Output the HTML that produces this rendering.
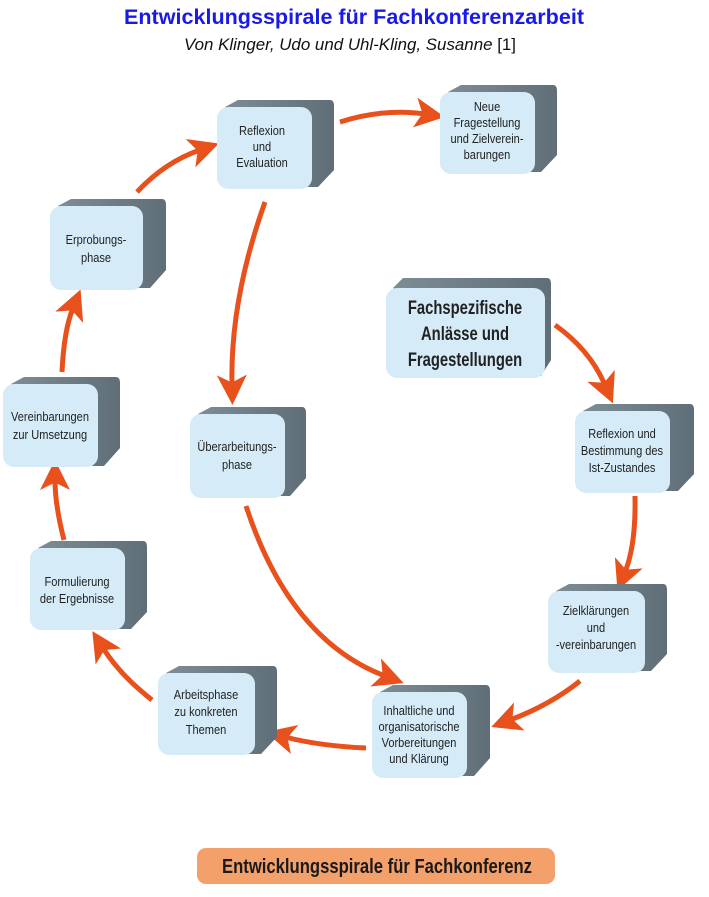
<!DOCTYPE html>
<html><head><meta charset="utf-8"><style>
body{margin:0;background:#fff;width:709px;height:897px;overflow:hidden}
svg{display:block}
.t{font-family:"Liberation Sans Narrow","Liberation Sans",sans-serif;font-size:13px;fill:#222;text-anchor:middle;transform-box:fill-box;transform-origin:center;transform:scaleX(0.85)}
.big{font-size:19px;font-weight:bold;transform:scaleX(0.78)}
</style></head><body>
<svg width="709" height="897" viewBox="0 0 709 897" xmlns="http://www.w3.org/2000/svg">
<defs>
<marker id="ah" markerWidth="6" markerHeight="6" refX="2" refY="3" orient="auto" markerUnits="strokeWidth">
<path d="M0,0 L6,3 L0,6 L1.5,3 Z" fill="#e8511c"/>
</marker>
<linearGradient id="g" x1="0" y1="0" x2="1" y2="0"><stop offset="0" stop-color="#7d8c95"/><stop offset="1" stop-color="#5f6e77"/></linearGradient>
</defs>
<text x="354" y="24" text-anchor="middle" font-family="Liberation Sans,sans-serif" font-weight="bold" font-size="21" fill="#1a1ae6" textLength="460" lengthAdjust="spacingAndGlyphs">Entwicklungsspirale für Fachkonferenzarbeit</text>
<text x="350" y="50" text-anchor="middle" font-family="Liberation Sans,sans-serif" font-style="italic" font-size="17" fill="#111" textLength="332" lengthAdjust="spacingAndGlyphs">Von Klinger, Udo und Uhl-Kling, Susanne <tspan font-style="normal">[1]</tspan></text>

<g fill="none" stroke="#e8511c" stroke-width="5" marker-end="url(#ah)">
<path d="M137,192 Q165,162 200,150"/>
<path d="M340,122 Q385,108 425,114"/>
<path d="M265,202 Q230,300 232,385"/>
<path d="M246,506 Q290,640 385,676"/>
<path d="M366,748 Q320,746 285,737"/>
<path d="M152,700 Q120,675 103,648"/>
<path d="M64,540 Q55,505 55,480"/>
<path d="M62,372 Q64,330 73,308"/>
<path d="M555,325 Q590,350 605,385"/>
<path d="M635,496 Q636,545 625,572"/>
<path d="M580,681 Q550,705 510,720"/>
</g>

<g><path d="M225,107 L238,100 L330,100 Q334,100 334,106 L334,170 L318,187 L306,187 Z" fill="url(#g)"/><rect x="217" y="107" width="95" height="82" rx="11" fill="#d5ecf8"/>
<text class="t" x="262" y="135">Reflexion</text><text class="t" x="262" y="151">und</text><text class="t" x="262" y="167">Evaluation</text></g>

<g><path d="M448,92 L461,85 L553,85 Q557,85 557,91 L557,155 L541,172 L528,172 Z" fill="url(#g)"/><rect x="440" y="92" width="95" height="82" rx="11" fill="#d5ecf8"/>
<text class="t" x="487" y="111">Neue</text><text class="t" x="487" y="127">Fragestellung</text><text class="t" x="487" y="143">und Zielverein-</text><text class="t" x="487" y="159">barungen</text></g>

<g><path d="M58,206 L71,199 L162,199 Q166,199 166,205 L166,270 L150,288 L138,288 Z" fill="url(#g)"/><rect x="50" y="206" width="93" height="84" rx="11" fill="#d5ecf8"/>
<text class="t" x="96" y="244">Erprobungs-</text><text class="t" x="96" y="262">phase</text></g>

<g><path d="M11,384 L24,377 L116,377 Q120,377 120,383 L120,448 L104,466 L92,466 Z" fill="url(#g)"/><rect x="3" y="384" width="95" height="83" rx="11" fill="#d5ecf8"/>
<text class="t" x="50" y="421">Vereinbarungen</text><text class="t" x="50" y="439">zur Umsetzung</text></g>

<g><path d="M38,548 L51,541 L143,541 Q147,541 147,547 L147,612 L131,629 L119,629 Z" fill="url(#g)"/><rect x="30" y="548" width="95" height="82" rx="11" fill="#d5ecf8"/>
<text class="t" x="77" y="586">Formulierung</text><text class="t" x="77" y="603">der Ergebnisse</text></g>

<g><path d="M166,673 L179,666 L273,666 Q277,666 277,672 L277,737 L261,754 L249,754 Z" fill="url(#g)"/><rect x="158" y="673" width="97" height="82" rx="11" fill="#d5ecf8"/>
<text class="t" x="206" y="699">Arbeitsphase</text><text class="t" x="206" y="716">zu konkreten</text><text class="t" x="206" y="734">Themen</text></g>

<g><path d="M380,692 L393,685 L486,685 Q490,685 490,691 L490,758 L474,776 L462,776 Z" fill="url(#g)"/><rect x="372" y="692" width="95" height="86" rx="11" fill="#d5ecf8"/>
<text class="t" x="419" y="715">Inhaltliche und</text><text class="t" x="419" y="731">organisatorische</text><text class="t" x="419" y="747">Vorbereitungen</text><text class="t" x="419" y="763">und Klärung</text></g>

<g><path d="M198,414 L211,407 L302,407 Q306,407 306,413 L306,478 L290,496 L278,496 Z" fill="url(#g)"/><rect x="190" y="414" width="95" height="84" rx="11" fill="#d5ecf8"/>
<text class="t" x="237" y="451">Überarbeitungs-</text><text class="t" x="237" y="469">phase</text></g>

<g><path d="M393,288 L403,278 L547,278 Q551,278 551,284 L551,360 L541,376 L535,376 Z" fill="url(#g)"/><rect x="386" y="288" width="159" height="90" rx="11" fill="#d5ecf8"/>
<text class="t big" x="465" y="314">Fachspezifische</text><text class="t big" x="465" y="340">Anlässe und</text><text class="t big" x="465" y="366">Fragestellungen</text></g>

<g><path d="M583,411 L596,404 L690,404 Q694,404 694,410 L694,474 L678,491 L666,491 Z" fill="url(#g)"/><rect x="575" y="411" width="95" height="82" rx="11" fill="#d5ecf8"/>
<text class="t" x="622" y="438">Reflexion und</text><text class="t" x="622" y="455">Bestimmung des</text><text class="t" x="622" y="472">Ist-Zustandes</text></g>

<g><path d="M556,591 L569,584 L663,584 Q667,584 667,590 L667,654 L651,671 L639,671 Z" fill="url(#g)"/><rect x="548" y="591" width="97" height="82" rx="11" fill="#d5ecf8"/>
<text class="t" x="596" y="615">Zielklärungen</text><text class="t" x="596" y="632">und</text><text class="t" x="596" y="649">-vereinbarungen</text></g>

<rect x="197" y="848" width="358" height="36" rx="9" fill="#f4a06a"/>
<text x="377" y="873" text-anchor="middle" font-family="Liberation Sans,sans-serif" font-size="20" font-weight="bold" fill="#1a1a1a" textLength="310" lengthAdjust="spacingAndGlyphs">Entwicklungsspirale für Fachkonferenz</text>
</svg>
</body></html>
